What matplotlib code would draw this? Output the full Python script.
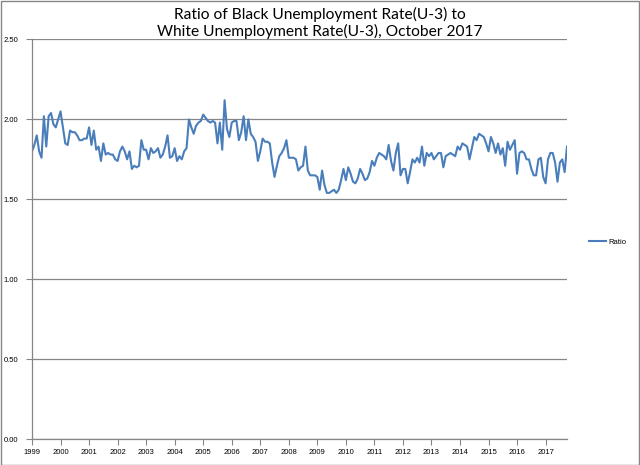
import matplotlib
matplotlib.use("Agg")
import matplotlib.pyplot as plt
from matplotlib.patches import Rectangle
import numpy as np

years = [str(y) for y in range(1999, 2018)]

r1999 = [1.80, 1.84, 1.90, 1.80, 1.76, 2.02, 1.83, 2.02, 2.04, 1.97, 1.95, 2.00]
r2000 = [2.05, 1.95, 1.85, 1.84, 1.93, 1.92, 1.92, 1.90, 1.87, 1.87, 1.88, 1.88]
r2001 = [1.95, 1.84, 1.93, 1.81, 1.83, 1.74, 1.85, 1.78, 1.79, 1.78, 1.78, 1.75]
r2002 = [1.74, 1.80, 1.83, 1.80, 1.75, 1.80, 1.69, 1.71, 1.70, 1.71, 1.87, 1.81]
r2003 = [1.81, 1.75, 1.82, 1.79, 1.80, 1.82, 1.76, 1.78, 1.83, 1.90, 1.76, 1.77]
r2004 = [1.82, 1.74, 1.77, 1.75, 1.80, 1.82, 2.00, 1.95, 1.91, 1.96, 1.98, 1.99]
r2005 = [2.03, 2.01, 1.99, 1.98, 1.99, 1.98, 1.85, 1.98, 1.81, 2.12, 1.94, 1.89]
r2006 = [1.98, 1.99, 1.99, 1.87, 1.92, 2.02, 1.87, 2.00, 1.91, 1.89, 1.86, 1.74]
r2007 = [1.80, 1.88, 1.86, 1.86, 1.85, 1.73, 1.64, 1.71, 1.77, 1.79, 1.82, 1.87]
r2008 = [1.76, 1.76, 1.76, 1.75, 1.68, 1.70, 1.71, 1.83, 1.68, 1.65, 1.65, 1.65]
r2009 = [1.64, 1.56, 1.68, 1.59, 1.54, 1.54, 1.55, 1.56, 1.54, 1.56, 1.62, 1.69]
r2010 = [1.62, 1.70, 1.66, 1.61, 1.60, 1.63, 1.69, 1.66, 1.62, 1.63, 1.67, 1.74]
r2011 = [1.71, 1.76, 1.79, 1.78, 1.77, 1.75, 1.84, 1.74, 1.68, 1.79, 1.85, 1.65]
r2012 = [1.69, 1.69, 1.60, 1.67, 1.75, 1.73, 1.76, 1.73, 1.83, 1.71, 1.79, 1.77]
r2013 = [1.79, 1.75, 1.77, 1.79, 1.79, 1.70, 1.77, 1.78, 1.79, 1.78, 1.77, 1.83]
r2014 = [1.81, 1.85, 1.84, 1.83, 1.75, 1.82, 1.89, 1.87, 1.91, 1.90, 1.89, 1.85]
r2015 = [1.80, 1.89, 1.85, 1.79, 1.85, 1.78, 1.82, 1.71, 1.86, 1.81, 1.84, 1.87]
r2016 = [1.66, 1.79, 1.80, 1.79, 1.75, 1.75, 1.69, 1.65, 1.65, 1.75, 1.76, 1.64]
r2017 = [1.60, 1.75, 1.79, 1.79, 1.73, 1.61, 1.73, 1.75, 1.67, 1.83]

ratio = (r1999 + r2000 + r2001 + r2002 + r2003 + r2004 + r2005 + r2006 + r2007
         + r2008 + r2009 + r2010 + r2011 + r2012 + r2013 + r2014 + r2015 + r2016 + r2017)
y_ticks = [0.0, 0.5, 1.0, 1.5, 2.0, 2.5]

W, H = 640, 465
fig = plt.figure(figsize=(W / 100, H / 100), dpi=100)
fig.patch.set_facecolor("white")

left, right, top, bottom = 32, 567, 39.5, 439
ax = fig.add_axes([left / W, 1 - bottom / H, (right - left) / W, (bottom - top) / H])

x = np.arange(len(ratio))
ax.plot(x, ratio, color="#4A7EBB", lw=1.5, label="Ratio", solid_joinstyle="round")

ax.set_xlim(0, len(ratio) - 1)
ax.set_ylim(0, 2.5)
ax.set_yticks(y_ticks)
ax.set_yticklabels([f"{v:.2f}" for v in y_ticks])
ax.set_xticks(np.arange(0, len(ratio), 12))
ax.set_xticklabels(years)

gray = "#868686"
ax.grid(axis="y", color=gray, lw=0.9)
ax.set_axisbelow(True)
for s in ["top", "right"]:
    ax.spines[s].set_visible(False)
for s in ["left", "bottom"]:
    ax.spines[s].set_color(gray)
    ax.spines[s].set_linewidth(0.9)

ax.tick_params(axis="both", colors=gray, length=4, width=0.8, direction="out")
for lab in ax.get_xticklabels() + ax.get_yticklabels():
    lab.set_color("black")
    lab.set_fontfamily(["Liberation Sans", "DejaVu Sans"])
    lab.set_fontsize(5.5)
ax.tick_params(axis="y", pad=6)
ax.tick_params(axis="x", pad=3)

fig.text(0.5, 1 - 14 / H, "Ratio of Black Unemployment Rate(U-3) to",
         ha="center", va="center", fontsize=11.2, family=["Lato", "DejaVu Sans"])
fig.text(0.5, 1 - 31.5 / H, "White Unemployment Rate(U-3), October 2017",
         ha="center", va="center", fontsize=11.2, family=["Lato", "DejaVu Sans"])

fig.legend(loc="center left", bbox_to_anchor=(582 / W, 1 - 242 / H), frameon=False,
           handlelength=2.2, handletextpad=0.3,
           prop=dict(family=["Liberation Sans", "DejaVu Sans"], size=5.5))

fig.patches.append(Rectangle((0.5 / W, 0.5 / H), (W - 2) / W, (H - 2) / H,
                             transform=fig.transFigure, fill=False,
                             edgecolor=gray, lw=1))

fig.savefig("out.png", dpi=100)
